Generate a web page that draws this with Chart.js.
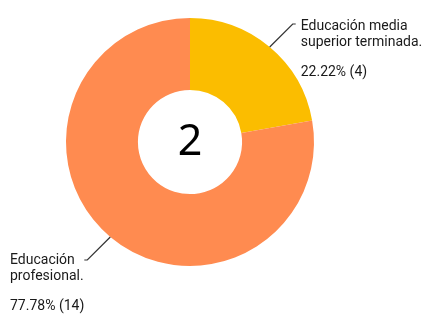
<!DOCTYPE html>
<html>
<head>
<meta charset="utf-8">
<script src="https://cdn.jsdelivr.net/npm/chart.js@4/dist/chart.umd.min.js"></script>
<style>
html,body{margin:0;padding:0;background:#fff;}
#wrap{position:relative;width:429px;height:325px;}
</style>
</head>
<body>
<div id="wrap"><canvas id="c" width="429" height="325"></canvas></div>
<script>
const categories = [["Educación media", "superior terminada."], ["Educación", "profesional."]];
const counts = [4, 14];
const percents = ["22.22%", "77.78%"];
const colors = ["#FBBD00", "#FF8B50"];
const centerText = "2";

const labelPlugin = {
  id: 'labels',
  afterDraw(chart) {
    const ctx = chart.ctx;
    const meta = chart.getDatasetMeta(0);
    ctx.save();
    const a0 = meta.data[0];
    ctx.fillStyle = '#000';
    ctx.font = '43px "Noto Sans", Roboto, sans-serif';
    ctx.textAlign = 'center';
    ctx.textBaseline = 'middle';
    ctx.fillText(centerText, a0.x, a0.y + 1);
    meta.data.forEach((arc, i) => {
      const mid = (arc.startAngle + arc.endAngle) / 2;
      const r = arc.outerRadius;
      const sx = arc.x + Math.cos(mid) * r;
      const sy = arc.y + Math.sin(mid) * r;
      const right = Math.cos(mid) > 0;
      const ex = sx + (right ? 23 : -23);
      const ey = sy + (Math.sin(mid) < 0 ? -23 : 23);
      ctx.strokeStyle = '#333';
      ctx.lineWidth = 1.2;
      ctx.beginPath();
      ctx.moveTo(sx, sy);
      ctx.lineTo(ex, ey);
      ctx.lineTo(ex + (right ? 3 : -3), ey);
      ctx.stroke();
      ctx.fillStyle = '#1a1a1a';
      ctx.font = '14px Roboto, "Noto Sans", sans-serif';
      ctx.textAlign = 'left';
      ctx.textBaseline = 'middle';
      const lines = categories[i];
      const tx = right ? ex + 8 : 10;
      const ty = right ? ey + 2 : ey + 1;
      lines.forEach((l, k) => ctx.fillText(l, tx, ty + k * 16));
      ctx.fillText(percents[i] + ' (' + counts[i] + ')', tx, ty + 46);
    });
    ctx.restore();
  }
};

new Chart(document.getElementById('c'), {
  type: 'doughnut',
  data: {
    labels: categories.map(c => c.join(' ')),
    datasets: [{
      data: counts,
      backgroundColor: colors,
      borderWidth: 0,
      hoverOffset: 0
    }]
  },
  options: {
    responsive: false,
    animation: false,
    cutout: '42%',
    layout: { padding: { top: 18, bottom: 59, left: 66, right: 115 } },
    plugins: { legend: { display: false }, tooltip: { enabled: false } }
  },
  plugins: [labelPlugin]
});
</script>
</body>
</html>
